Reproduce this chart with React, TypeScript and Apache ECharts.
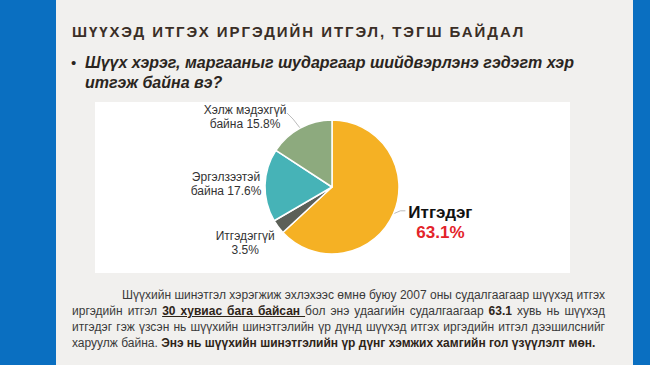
import React, { useEffect, useRef } from "react";
import * as echarts from "echarts";

const categories = ["Итгэдэг", "Итгэдэггүй", "Эргэлзээтэй байна", "Хэлж мэдэхгүй байна"];
const labelLines = [["Итгэдэг"], ["Итгэдэггүй"], ["Эргэлзээтэй", "байна"], ["Хэлж мэдэхгүй", "байна"]];
const values = [63.1, 3.5, 17.6, 15.8];
const colors = ["#f5b124", "#5c6058", "#46b3b7", "#8daa7e"];

const title = "ШҮҮХЭД ИТГЭХ ИРГЭДИЙН ИТГЭЛ, ТЭГШ БАЙДАЛ";
const question = "Шүүх хэрэг, маргааныг шударгаар шийдвэрлэнэ гэдэгт хэр итгэж байна вэ?";

// label offsets relative to the slice's outer edge point [dx, dy]
const labelOffsets = [[47, 9], [-33, 16], [-39, -1], [-55, -11]];

function PieChart() {
  const ref = useRef<HTMLDivElement>(null);
  useEffect(() => {
    if (!ref.current) return;
    const chart = echarts.init(ref.current, null, { renderer: "svg" });
    const data = categories.map((name, i) => ({
      name,
      value: values[i],
      itemStyle: { color: colors[i] },
    }));
    chart.setOption({
      animation: false,
      backgroundColor: "#ffffff",
      series: [
        {
          type: "pie",
          center: [237, 85],
          radius: 67,
          startAngle: 90,
          clockwise: true,
          data,
          itemStyle: { borderColor: "#ffffff", borderWidth: 1.5 },
          label: {
            show: true,
            position: "outside",
            formatter: (p: any) => {
              const i = p.dataIndex;
              if (i === 0) return `{big|${labelLines[0][0]}}\n{red|${values[0].toFixed(1)}%}`;
              const l = labelLines[i];
              if (l.length === 2) return `{n|${l[0]}}\n{n|${l[1]} ${values[i].toFixed(1)}%}`;
              return `{n|${l[0]}}\n{n|${values[i].toFixed(1)}%}`;
            },
            rich: {
              n: { fontSize: 12, lineHeight: 14, color: "#333333", fontFamily: "Liberation Sans, Arial, sans-serif", align: "center" },
              big: { fontSize: 17, lineHeight: 20, fontWeight: "bold", color: "#111111", fontFamily: "Liberation Sans, Arial, sans-serif", align: "center" },
              red: { fontSize: 17, lineHeight: 20, fontWeight: "bold", color: "#e3232a", fontFamily: "Liberation Sans, Arial, sans-serif", align: "center" },
            },
          },
          labelLine: { show: true, length: 8, length2: 6, lineStyle: { color: "#aaaaaa", width: 0.8 } },
          labelLayout: (params: any) => {
            const pts = params.labelLinePoints;
            const i = params.dataIndex;
            if (!pts) return {};
            const [ex, ey] = pts[0];
            const [dx, dy] = labelOffsets[i];
            let line: number[][] = [[ex, ey], [ex, ey], [ex, ey]];
            if (i === 0) line = [[ex, ey], [ex + 7, ey - 3], [ex + 12, ey - 3]];
            if (i === 3) line = [[ex, ey], [ex - 7, ey - 9], [ex - 13, ey - 15]];
            return {
              x: ex + dx,
              y: ey + dy,
              align: "center",
              verticalAlign: "middle",
              labelLinePoints: line,
            };
          },
        },
      ],
    });
    return () => chart.dispose();
  }, []);
  return <div ref={ref} style={{ position: "absolute", left: 95, top: 102, width: 475, height: 171 }} />;
}

const lineStyle = (justifyLast: boolean, indent = 0): React.CSSProperties => ({
  height: 16,
  whiteSpace: "nowrap",
  textAlign: "justify",
  textAlignLast: justifyLast ? "justify" : "left",
  paddingLeft: indent,
});

export default function App() {
  const b: React.CSSProperties = { color: "#2e2418", fontWeight: "bold" };
  return (
    <div
      style={{
        position: "fixed",
        left: 0,
        top: 0,
        width: 650,
        height: 365,
        background: "#f1f0ee",
        overflow: "hidden",
        fontFamily: "Liberation Sans, Arial, sans-serif",
      }}
    >
      <div style={{ position: "absolute", left: 0, top: 0, width: 56, height: 365, background: "#0a6fc1" }} />
      <div style={{ position: "absolute", left: 633, top: 0, width: 17, height: 365, background: "#0a6fc1" }} />
      <div
        style={{
          position: "absolute",
          left: 72,
          top: 23,
          fontSize: 15,
          lineHeight: "17px",
          fontWeight: "bold",
          letterSpacing: 1.95,
          color: "#3a2e26",
          whiteSpace: "nowrap",
        }}
      >
        {title}
      </div>
      <div style={{ position: "absolute", left: 71, top: 53, fontSize: 15, lineHeight: "20px", color: "#2a2520" }}>•</div>
      <div
        style={{
          position: "absolute",
          left: 85,
          top: 53,
          width: 510,
          fontSize: 16,
          lineHeight: "20px",
          fontWeight: "bold",
          fontStyle: "italic",
          color: "#2a2520",
        }}
      >
        {question}
      </div>
      <PieChart />
      <div
        style={{
          position: "absolute",
          left: 72,
          top: 287,
          width: 533,
          fontSize: 12,
          lineHeight: "16px",
          color: "#3a3a3a",
        }}
      >
        <div style={lineStyle(true, 50)}>
          Шүүхийн шинэтгэл хэрэгжиж эхлэхээс өмнө буюу 2007 оны судалгаагаар шүүхэд итгэх
        </div>
        <div style={lineStyle(true)}>
          иргэдийн итгэл <span style={{ ...b, textDecoration: "underline" }}>30 хувиас бага байсан&nbsp;</span>бол энэ удаагийн судалгаагаар <span style={b}>63.1</span> хувь нь шүүхэд
        </div>
        <div style={lineStyle(true)}>
          итгэдэг гэж үзсэн нь шүүхийн шинэтгэлийн үр дүнд шүүхэд итгэх иргэдийн итгэл дээшилснийг
        </div>
        <div style={lineStyle(false)}>
          харуулж байна. <span style={b}>Энэ нь шүүхийн шинэтгэлийн үр дүнг хэмжих хамгийн гол үзүүлэлт мөн.</span>
        </div>
      </div>
    </div>
  );
}
